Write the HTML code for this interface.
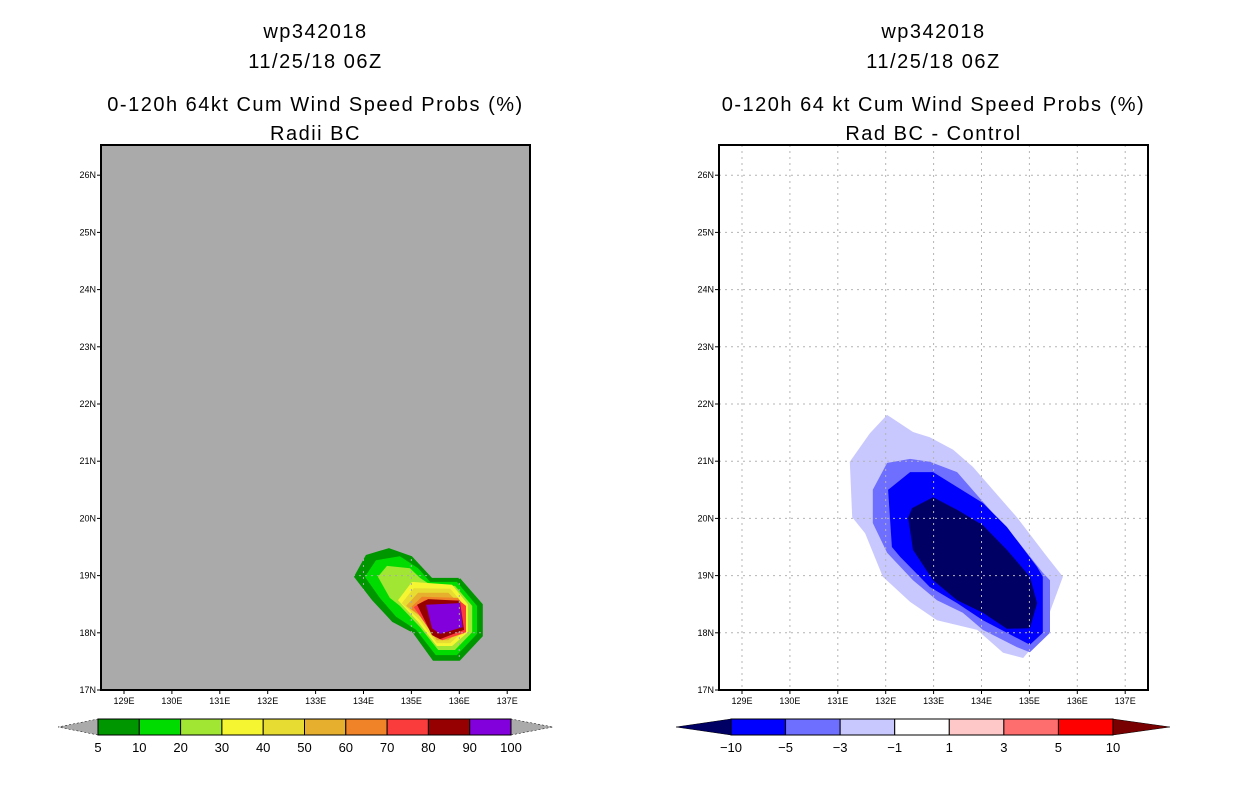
<!DOCTYPE html>
<html><head><meta charset="utf-8">
<style>
html,body{margin:0;padding:0;background:#fff;}
svg{display:block;font-family:"Liberation Sans",sans-serif;}
</style></head>
<body>
<svg id="c" width="1236" height="800"></svg>
<script>
const lonTicks=[129,130,131,132,133,134,135,136,137];
const latTicks=[17,18,19,20,21,22,23,24,25,26];
const leftLevels=[5,10,20,30,40,50,60,70,80,90,100];
const leftColors=["#009600","#00dc00","#a0e632","#f5f532","#e6dc32","#e6af2d","#f08228","#fa3c3c","#960000","#8200dc"];
const rightLevels=["−10","−5","−3","−1","1","3","5","10"];
const rightColors=["#000064","#0000ff","#6e6eff","#c8c8ff","#ffffff","#ffc8c8","#ff6e6e","#ff0000","#780000"];
const L5=[[133.80,18.98],[134.05,19.36],[134.53,19.48],[135.01,19.34],[135.43,18.96],[136.01,18.96],[136.49,18.50],[136.49,17.94],[136.01,17.51],[135.45,17.51],[135.03,18.00],[134.60,18.19],[134.18,18.57]];
const L10=[[134.03,18.98],[134.26,19.27],[134.76,19.34],[135.14,19.13],[135.39,18.89],[135.95,18.89],[136.37,18.47],[136.37,17.98],[135.95,17.61],[135.51,17.61],[135.10,18.05],[134.68,18.28],[134.34,18.61]];
const L20=[[134.30,18.98],[134.49,19.17],[134.97,19.13],[135.18,18.96],[135.43,18.82],[135.91,18.82],[136.27,18.47],[136.27,18.01],[135.91,17.70],[135.56,17.70],[135.18,18.10],[134.76,18.47],[134.55,18.61]];
const L30=[[134.72,18.57],[135.01,18.89],[135.85,18.84],[136.18,18.50],[136.18,18.01],[135.85,17.77],[135.53,17.77],[135.14,18.19]];
const L40=[[134.80,18.52],[135.05,18.78],[135.81,18.77],[136.12,18.47],[136.12,18.05],[135.81,17.82],[135.53,17.82],[135.18,18.22]];
const L50=[[134.89,18.47],[135.14,18.70],[135.77,18.70],[136.08,18.45],[136.08,18.08],[135.77,17.87],[135.53,17.87],[135.22,18.26]];
const L60=[[134.97,18.43],[135.22,18.63],[135.97,18.61],[136.10,18.47],[136.10,17.99],[135.77,17.90],[135.56,17.90],[135.24,18.27]];
const L70=[[135.05,18.45],[135.28,18.57],[135.99,18.57],[136.14,18.47],[136.14,18.01],[135.64,17.87],[135.47,17.94]];
const L80=[[135.12,18.49],[135.35,18.59],[136.01,18.56],[136.10,18.05],[135.60,17.89],[135.43,17.96]];
const L90=[[135.31,18.49],[136.01,18.52],[136.07,18.10],[135.60,17.98],[135.43,18.08]];
const leftPolys=[L5,L10,L20,L30,L40,L50,L60,L70,L80,L90];
const R1=[[132.03,21.81],[131.67,21.49],[131.25,20.99],[131.30,20.02],[131.57,19.74],[131.94,18.98],[132.51,18.54],[133.07,18.22],[133.91,18.05],[134.45,17.65],[134.87,17.56],[135.01,17.70],[135.08,18.00],[135.39,18.28],[135.70,18.98],[135.37,19.33],[134.74,20.02],[133.82,20.90],[133.41,21.20],[132.92,21.42],[132.57,21.51]];
const R3=[[131.73,20.50],[132.03,20.97],[132.51,21.04],[132.92,20.99],[133.49,20.81],[134.03,20.29],[134.74,19.62],[135.28,19.05],[135.43,18.92],[135.43,18.00],[135.01,17.66],[134.74,17.75],[134.03,18.05],[133.61,18.35],[133.07,18.57],[132.57,18.92],[132.03,19.40],[131.73,19.92]];
const R5=[[132.05,20.50],[132.51,20.81],[132.99,20.81],[134.03,20.27],[134.53,19.85],[135.16,19.15],[135.28,18.98],[135.28,18.00],[135.01,17.79],[134.53,18.00],[134.03,18.22],[133.49,18.52],[132.92,18.80],[132.30,19.33],[132.13,19.50]];
const R10=[[132.55,20.18],[132.99,20.37],[133.49,20.15],[134.03,19.88],[134.53,19.45],[135.01,18.98],[135.16,18.52],[135.01,18.08],[134.53,18.07],[134.03,18.35],[133.49,18.57],[132.99,18.92],[132.57,19.45],[132.47,20.01]];
const rightPolys=[R1,R3,R5,R10];
const rightPolyColors=["#c8c8ff","#6e6eff","#0000ff","#000064"];

const NS="http://www.w3.org/2000/svg";
const svg=document.getElementById('c');
function mk(tag,attrs,parent,text){const e=document.createElementNS(NS,tag);for(const k in attrs)e.setAttribute(k,attrs[k]);if(text!==undefined)e.textContent=text;(parent||svg).appendChild(e);return e;}
const PT=145,PB=690,PW=429;
function xs(x0){return lon=>x0+23+(lon-129)*47.9;}
function ys(lat){return PB-(lat-17)*57.2;}
function ptsStr(poly,X){return poly.map(p=>X(p[0]).toFixed(1)+","+ys(p[1]).toFixed(1)).join(" ");}

function panel(x0,bg,gridCol,polys,cols,titles,name){
  const X=xs(x0);
  const g=mk('g',{},svg);
  
  
  const cx=x0+PW/2;
  const ty=[38,68,111,140];
  titles.forEach((t,i)=>{const e=mk('text',{x:cx,y:ty[i],'text-anchor':'middle','font-size':20,fill:'#000','letter-spacing':'1.5'},g,t);
    
    });
  const r=mk('rect',{x:x0,y:PT,width:PW,height:PB-PT,fill:bg},g);
  
  
  polys.forEach((p,i)=>{const e=mk('polygon',{points:ptsStr(p,X),fill:cols[i]},g);
    
    });
  lonTicks.forEach(l=>{const x=X(l);
    mk('line',{x1:x,x2:x,y1:PT,y2:PB,stroke:gridCol,'stroke-width':1,'stroke-dasharray':'2,4'},g);
    mk('line',{x1:x,x2:x,y1:PB,y2:PB+4,stroke:'#000'},g);
    const t=mk('text',{x:x,y:PB+14,'text-anchor':'middle','font-size':9},g,l+'E');
    
    });
  latTicks.forEach(l=>{const y=ys(l);
    if(l>17)mk('line',{x1:x0,x2:x0+PW,y1:y,y2:y,stroke:gridCol,'stroke-width':1,'stroke-dasharray':'2,4'},g);
    mk('line',{x1:x0-4,x2:x0,y1:y,y2:y,stroke:'#000'},g);
    const t=mk('text',{x:x0-5,y:y+3,'text-anchor':'end','font-size':9},g,l+'N');
    
    });
  mk('rect',{x:x0,y:PT,width:PW,height:PB-PT,fill:'none',stroke:'#000','stroke-width':2},g);
}
panel(101,'#aaaaaa','#aaaaaa',leftPolys,leftColors,["wp342018","11/25/18 06Z","0-120h 64kt Cum Wind Speed Probs (%)","Radii BC"],'left-panel');
panel(719,'#ffffff','#b4b4b4',rightPolys,rightPolyColors,["wp342018","11/25/18 06Z","0-120h 64 kt Cum Wind Speed Probs (%)","Rad BC - Control"],'right-panel');

(function(){
  const g=mk('g',{},svg);
  
  
  const x0=98,x1=511,y0=719,y1=735,n=leftColors.length,w=(x1-x0)/n;
  mk('polygon',{points:`${x0},${y0} ${x0},${y1} 58,727`,fill:'#aaaaaa',stroke:'#000','stroke-width':0.5,'stroke-dasharray':'2,2'},g);
  mk('polygon',{points:`${x1},${y0} ${x1},${y1} 553,727`,fill:'#aaaaaa',stroke:'#000','stroke-width':0.5,'stroke-dasharray':'2,2'},g);
  leftColors.forEach((c,i)=>{const e=mk('rect',{x:x0+i*w,y:y0,width:w,height:y1-y0,fill:c,stroke:'#000','stroke-width':1},g);
    
    });
  leftLevels.forEach((v,i)=>{const t=mk('text',{x:x0+i*w,y:752,'text-anchor':'middle','font-size':13},g,String(v));
    
    });
})();
(function(){
  const g=mk('g',{},svg);
  
  
  const x0=731,x1=1113,y0=719,y1=735,w=(x1-x0)/7;
  mk('polygon',{points:`${x0},${y0} ${x0},${y1} 676,727`,fill:rightColors[0],stroke:'#000','stroke-width':0.5},g);
  mk('polygon',{points:`${x1},${y0} ${x1},${y1} 1170,727`,fill:rightColors[8],stroke:'#000','stroke-width':0.5},g);
  for(let i=0;i<7;i++){const e=mk('rect',{x:x0+i*w,y:y0,width:w,height:y1-y0,fill:rightColors[i+1],stroke:'#000','stroke-width':1},g);
    
    }
  rightLevels.forEach((v,i)=>{const t=mk('text',{x:x0+i*w,y:752,'text-anchor':'middle','font-size':13},g,v);
    
    });
})();
</script>
</body></html>
